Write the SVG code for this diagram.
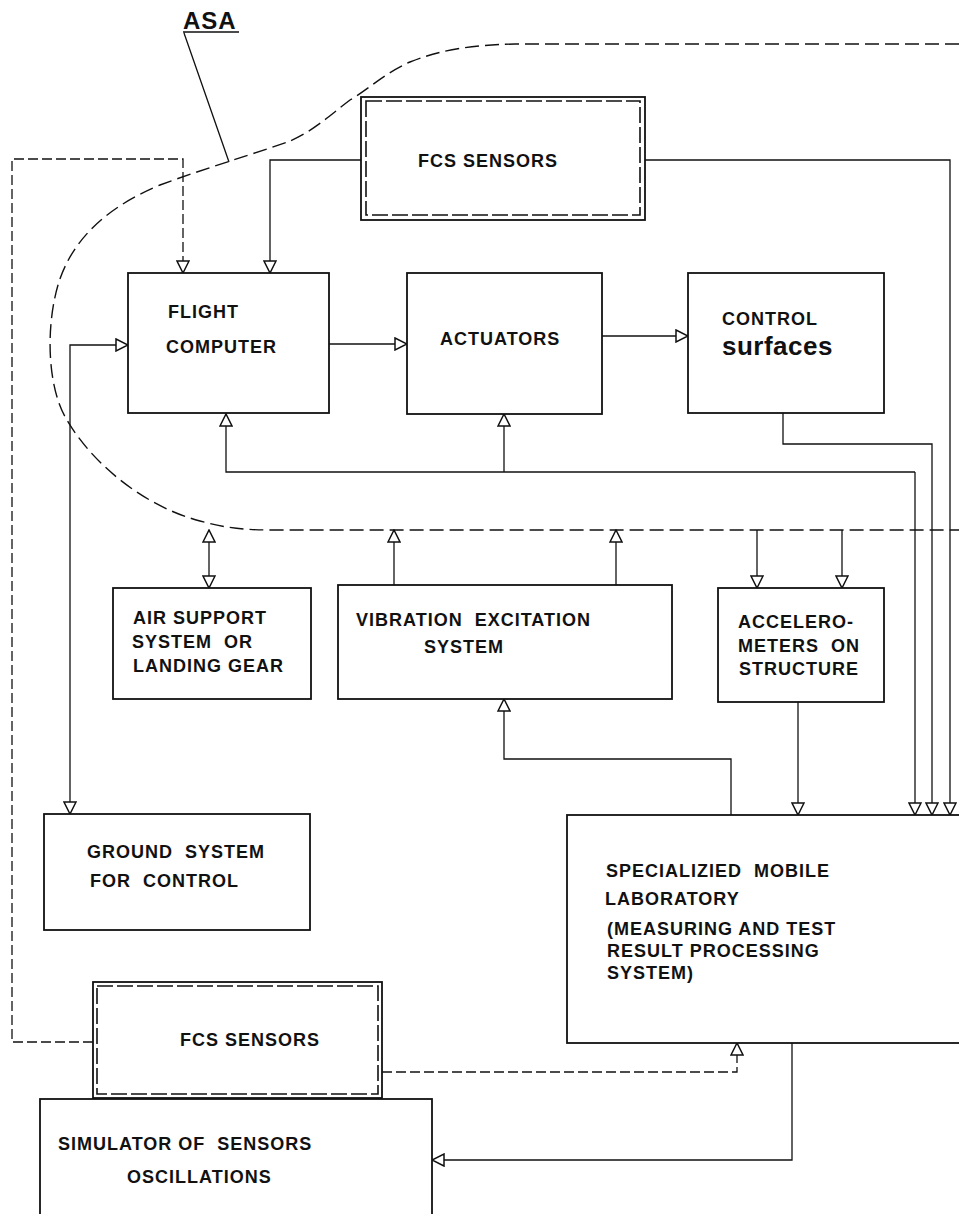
<svg xmlns="http://www.w3.org/2000/svg" width="959" height="1214" viewBox="0 0 959 1214">
  <style>
    .box { fill: #fff; stroke: #111; stroke-width: 1.8; }
    .inner { fill: none; stroke: #111; stroke-width: 1.6; stroke-dasharray: 16 4; }
    .ln { fill: none; stroke: #111; stroke-width: 1.3; }
    .dash { fill: none; stroke: #111; stroke-width: 1.3; stroke-dasharray: 10 4; }
    .asa { fill: none; stroke: #111; stroke-width: 1.4; stroke-dasharray: 14 6; }
    .t { font-family: "Liberation Sans", Arial, sans-serif; font-weight: bold; font-size: 18px; letter-spacing: 1px; fill: #111; white-space: pre; }
    .big { font-size: 26px; letter-spacing: 0.5px; }
    .asat { font-size: 24px; }
  </style>
  <defs>
    <marker id="arr" markerUnits="userSpaceOnUse" markerWidth="14" markerHeight="14" viewBox="0 0 14 14" refX="13" refY="7" orient="auto-start-reverse">
      <path d="M1,1 L13,7 L1,13 z" fill="#fff" stroke="#111" stroke-width="1.5"/>
    </marker>
  </defs>

  <!-- aircraft / ASA boundary and label -->
  <g id="asa">
    <path class="asa" d="M959,44 L515,44 C470,45 440,50 410,62 C385,73 370,88 350,100 C330,115 315,130 290,141 C260,152 200,170 160,185 C100,210 70,245 58,285 C45,330 48,390 67,420 C90,460 140,505 200,521 C225,528 245,530 273,530 L959,530"/>
    <text class="t asat" x="183" y="29" letter-spacing="0">ASA</text>
    <path class="ln" d="M183,32 H239 M184,33 L229,162"/>
  </g>

  <g id="connectors">
    <path class="ln" d="M361,160 H270 V273" marker-end="url(#arr)"/>
    <path class="ln" d="M645,160 H950 V815" marker-end="url(#arr)"/>
    <path class="dash" d="M93,1042 H12 V159 H183 V273" marker-end="url(#arr)"/>
    <path class="ln" d="M329,344 H407" marker-end="url(#arr)"/>
    <path class="ln" d="M602,336 H688" marker-end="url(#arr)"/>
    <path class="ln" d="M783,413 V444 H932 V815" marker-end="url(#arr)"/>
    <path class="ln" d="M915,472 H226 V414" marker-end="url(#arr)"/>
    <path class="ln" d="M504,472 V414" marker-end="url(#arr)"/>
    <path class="ln" d="M915,472 V815" marker-end="url(#arr)"/>
    <path class="ln" d="M128,345 H70 V814" marker-start="url(#arr)" marker-end="url(#arr)"/>
    <path class="ln" d="M209,530 V588" marker-start="url(#arr)" marker-end="url(#arr)"/>
    <path class="ln" d="M394,585 V530" marker-end="url(#arr)"/>
    <path class="ln" d="M616,585 V530" marker-end="url(#arr)"/>
    <path class="ln" d="M757,530 V588" marker-end="url(#arr)"/>
    <path class="ln" d="M842,530 V588" marker-end="url(#arr)"/>
    <path class="ln" d="M731,815 V759 H504 V699" marker-end="url(#arr)"/>
    <path class="ln" d="M798,702 V815" marker-end="url(#arr)"/>
    <path class="dash" d="M382,1072 H737 V1043" stroke-dasharray="8 4" marker-end="url(#arr)"/>
    <path class="ln" d="M792,1043 V1160 H432" marker-end="url(#arr)"/>
  </g>

  <g id="fcs-sensors-top">
    <rect class="box" x="361" y="97" width="284" height="123"/>
    <rect class="inner" x="366" y="101" width="274" height="114"/>
    <text class="t" x="418" y="167">FCS SENSORS</text>
  </g>

  <g id="flight-computer">
    <rect class="box" x="128" y="273" width="201" height="140"/>
    <text class="t" x="168" y="318">FLIGHT</text>
    <text class="t" x="166" y="353" letter-spacing="1.4">COMPUTER</text>
  </g>

  <g id="actuators">
    <rect class="box" x="407" y="273" width="195" height="141"/>
    <text class="t" x="440" y="345">ACTUATORS</text>
  </g>

  <g id="control-surfaces">
    <rect class="box" x="688" y="273" width="196" height="140"/>
    <text class="t" x="722" y="325">CONTROL</text>
    <text class="t big" x="722" y="355">surfaces</text>
  </g>

  <g id="air-support">
    <rect class="box" x="113" y="588" width="198" height="111"/>
    <text class="t" x="133" y="624">AIR SUPPORT</text>
    <text class="t" x="132" y="648">SYSTEM  OR</text>
    <text class="t" x="133" y="672">LANDING GEAR</text>
  </g>

  <g id="vibration-excitation">
    <rect class="box" x="338" y="585" width="334" height="114"/>
    <text class="t" x="356" y="626">VIBRATION  EXCITATION</text>
    <text class="t" x="424" y="653">SYSTEM</text>
  </g>

  <g id="accelerometers">
    <rect class="box" x="718" y="588" width="166" height="114"/>
    <text class="t" x="738" y="628">ACCELERO-</text>
    <text class="t" x="738" y="652">METERS  ON</text>
    <text class="t" x="739" y="675">STRUCTURE</text>
  </g>

  <g id="ground-system">
    <rect class="box" x="44" y="814" width="266" height="116"/>
    <text class="t" x="87" y="858">GROUND  SYSTEM</text>
    <text class="t" x="90" y="887">FOR  CONTROL</text>
  </g>

  <g id="mobile-laboratory">
    <rect class="box" x="567" y="815" width="400" height="228"/>
    <text class="t" x="606" y="877">SPECIALIZIED  MOBILE</text>
    <text class="t" x="605" y="905">LABORATORY</text>
    <text class="t" x="607" y="935">(MEASURING AND TEST</text>
    <text class="t" x="607" y="957">RESULT PROCESSING</text>
    <text class="t" x="607" y="979">SYSTEM)</text>
  </g>

  <g id="fcs-sensors-bottom">
    <rect class="box" x="93" y="982" width="289" height="116"/>
    <rect class="inner" x="97" y="986" width="281" height="108"/>
    <text class="t" x="180" y="1046">FCS SENSORS</text>
  </g>

  <g id="sensor-simulator">
    <rect class="box" x="40" y="1099" width="392" height="130"/>
    <text class="t" x="58" y="1150" letter-spacing="1.2">SIMULATOR OF  SENSORS</text>
    <text class="t" x="127" y="1183" letter-spacing="1.2">OSCILLATIONS</text>
  </g>
</svg>
